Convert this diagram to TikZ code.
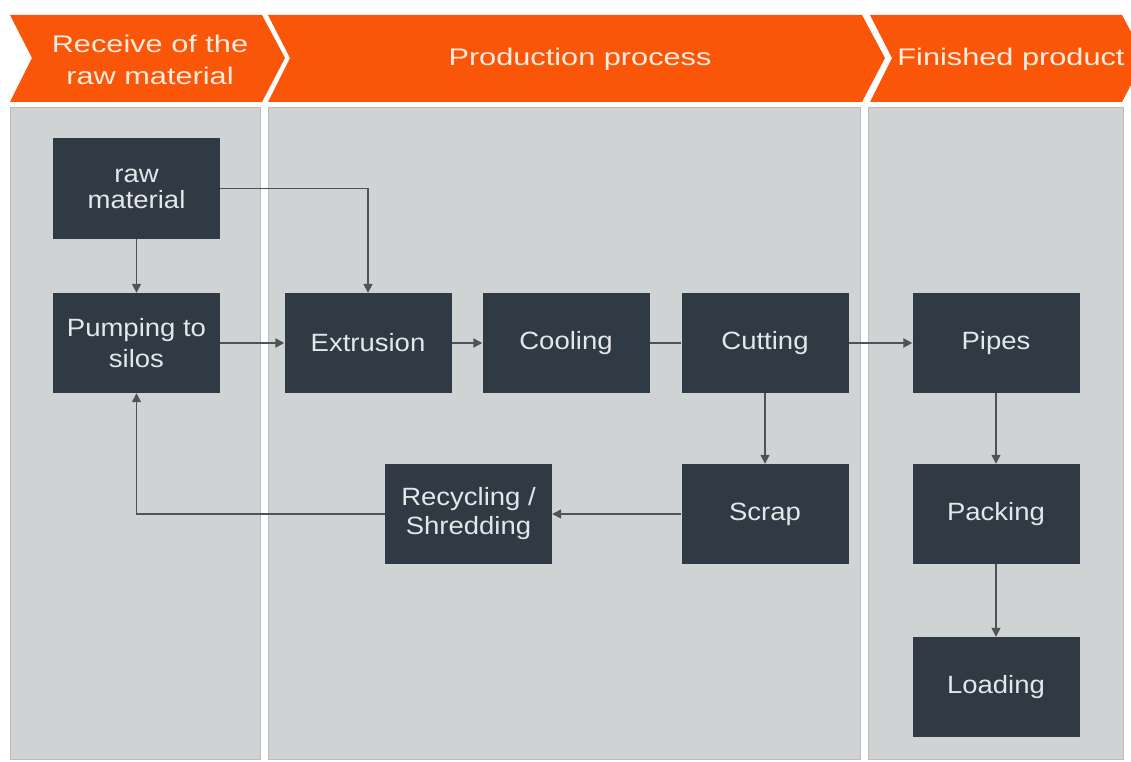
\documentclass[tikz,border=0pt]{standalone}
\usepackage{fontspec}
\setmainfont{Liberation Sans}[FakeStretch=1.1]
\newfontfamily\headfont{Liberation Sans}[FakeStretch=1.28]
\usetikzlibrary{arrows.meta}
\definecolor{bandorange}{RGB}{250,86,10}
\definecolor{headtext}{RGB}{252,236,222}
\definecolor{panelgrey}{RGB}{208,211,212}
\definecolor{paneledge}{RGB}{184,188,190}
\definecolor{boxfill}{RGB}{47,58,69}
\definecolor{boxtext}{RGB}{228,231,233}
\definecolor{linegrey}{RGB}{78,83,88}
\tikzset{
  stage/.style={fill=bandorange, draw=none},
  stagetext/.style={text=headtext, font=\headfont\fontsize{24}{32}\selectfont, align=center, inner sep=0pt},
  panel/.style={fill=panelgrey, draw=paneledge, line width=1pt},
  stepbox/.style={fill=boxfill, draw=none, minimum width=167pt, minimum height=100pt, inner sep=0pt,
    text=boxtext, align=center, font=\fontsize{25}{29}\selectfont},
  flow/.style={draw=linegrey, line width=1.5pt, -{Triangle[length=9pt,width=9pt]}},
  mainflow/.style={flow, line width=2.4pt},
}
\begin{document}
\begin{tikzpicture}[x=1pt, y=-1pt]
  \useasboundingbox (0,0) rectangle (1131,762);
  \fill[white] (0,0) rectangle (1131,762);
  \clip (0,0) rectangle (1131,762);

  % stage chevrons
  \fill[stage] (10,15) -- (262,15) -- (285,58) -- (262,102) -- (10,102) -- (32,58) -- cycle;
  \fill[stage] (268,15) -- (862,15) -- (885,58) -- (862,102) -- (268,102) -- (290,58) -- cycle;
  \fill[stage] (870,15) -- (1122,15) -- (1145,58) -- (1122,102) -- (870,102) -- (892,58) -- cycle;
  \node[stagetext] (h1) at (150,60) {Receive of the\\raw material};
  \node[stagetext] (h2) at (580,59) {Production process};
  \node[stagetext] (h3) at (1011,59) {Finished product};

  % stage panels
  \draw[panel] (10,108) rectangle (260,759);
  \draw[panel] (268,108) rectangle (860,759);
  \draw[panel] (868,108) rectangle (1123,759);

  % process steps
  \node[stepbox, font=\fontsize{25}{26}\selectfont] (raw) at (136.5,188.5) {raw\\material};
  \node[stepbox, font=\fontsize{25}{31}\selectfont] (pump) at (136.5,343) {Pumping to\\silos};
  \node[stepbox] (extr) at (368,343) {Extrusion};
  \node[stepbox] (cool) at (566,343) {Cooling};
  \node[stepbox] (cut) at (765,343) {Cutting};
  \node[stepbox] (pipes) at (996,343) {Pipes};
  \node[stepbox] (scrap) at (765,514) {Scrap};
  \node[stepbox] (recyc) at (468.5,514) {Recycling /\\Shredding};
  \node[stepbox] (pack) at (996,514) {Packing};
  \node[stepbox] (load) at (996,687) {Loading};

  % connectors
  \draw[flow] (raw) -- (pump);
  \draw[flow] (raw.east) -| (extr.north);
  \draw[mainflow] (pump) -- (extr);
  \draw[mainflow] (extr) -- (cool);
  \draw[draw=linegrey, line width=2.4pt] (cool) -- (cut);
  \draw[mainflow] (cut) -- (pipes);
  \draw[flow] (cut) -- (scrap);
  \draw[flow] (scrap) -- (recyc);
  \draw[flow] (recyc.west) -| (pump.south);
  \draw[flow] (pipes) -- (pack);
  \draw[flow] (pack) -- (load);
\end{tikzpicture}
\end{document}
